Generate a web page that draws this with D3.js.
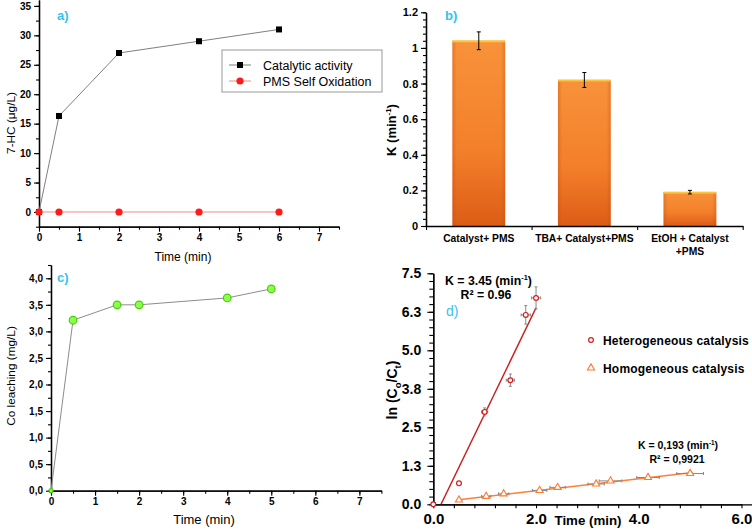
<!DOCTYPE html>
<html><head><meta charset="utf-8">
<script src="https://cdn.jsdelivr.net/npm/d3@7"></script>
<style>
html,body{margin:0;padding:0;background:#fff;}
svg{display:block;font-family:"Liberation Sans",Arial,sans-serif;}
</style></head>
<body><svg id="c" width="752" height="529"></svg>
<script>
// ---------- Panel a data ----------
const aTime = [0, 0.5, 2, 4, 6];
const aCatalytic = [0, 16.3, 27, 29, 31];
const aPMS = [0, 0, 0, 0, 0];
const aXTicks = [0, 1, 2, 3, 4, 5, 6, 7];
const aYTicks = [0, 5, 10, 15, 20, 25, 30, 35];
const aSeriesNames = ["Catalytic activity", "PMS Self Oxidation"];

// ---------- Panel b data ----------
const bCategories = ["Catalyst+ PMS", "TBA+ Catalyst+PMS", "EtOH + Catalyst|+PMS"];
const bValues = [1.04, 0.82, 0.19];
const bErrors = [0.05, 0.042, 0.01];
const bYTicks = [0, 0.2, 0.4, 0.6, 0.8, 1.0, 1.2];
const bYTickLabels = ["0", "0.2", "0.4", "0.6", "0.8", "1", "1.2"];

// ---------- Panel c data ----------
const cTime = [0, 0.5, 1.5, 2, 4, 5];
const cCo = [0, 3.21, 3.5, 3.5, 3.63, 3.8];
const cXTicks = [0, 1, 2, 3, 4, 5, 6, 7];
const cYTicks = [0, 0.5, 1.0, 1.5, 2.0, 2.5, 3.0, 3.5, 4.0];
const cYTickLabels = ["0,0", "0,5", "1,0", "1,5", "2,0", "2,5", "3,0", "3,5", "4,0"];

// ---------- Panel d data ----------
const hetTime = [0, 0.5, 1.0, 1.5, 1.8, 2.0];
const hetLn = [0, 0.68, 3.0, 4.03, 6.15, 6.7];
const hetXErr = [0, 0, 0.06, 0.08, 0.09, 0.09];
const hetYErr = [0, 0, 0.13, 0.2, 0.3, 0.36];
const homTime = [0.5, 1.03, 1.37, 2.07, 2.42, 3.17, 3.45, 4.18, 5.0];
const homLn = [0.14, 0.26, 0.34, 0.45, 0.55, 0.66, 0.76, 0.87, 1.0];
const homXErr = [0, 0.09, 0.1, 0.14, 0.15, 0.16, 0.22, 0.22, 0.26];
const homYErr = [0, 0.03, 0.03, 0.03, 0.04, 0.03, 0.03, 0.03, 0.04];
const hetFit = {k: 3.45, b: -0.52, from: 0.151, to: 2.0};
const homFit = {k: 0.193, b: 0.055, from: 0.5, to: 5.05};
const dXTicks = [0, 2, 4, 6];
const dXTickLabels = ["0.0", "2.0", "4.0", "6.0"];
const dYTicks = [0, 1.25, 2.5, 3.75, 5, 6.25, 7.5];
const dYTickLabels = ["0.0", "1.3", "2.5", "3.8", "5.0", "6.3", "7.5"];
const dSeriesNames = ["Heterogeneous catalysis", "Homogeneous catalysis"];

const svg = d3.select("#c");
const FONT = '"Liberation Sans", Arial, sans-serif';
const LBL = "#33c3f0";

function styleAxis(g, size, bold) {
  g.select(".domain").attr("stroke", "#000").attr("stroke-width", 1.3);
  g.selectAll(".tick line").attr("stroke", "#000").attr("stroke-width", 1.1);
  g.selectAll(".tick text").attr("font-family", FONT).attr("font-size", size)
    .attr("font-weight", bold ? "bold" : "normal").attr("fill", "#000");
}
function minorTicks(from, to, step) {
  const r = []; for (let v = from; v <= to + 1e-9; v += step) r.push(+v.toFixed(6)); return r;
}

// ======================= Panel a =======================
{
  const x = d3.scaleLinear().domain([0, 7.5]).range([39, 339]);
  const y = d3.scaleLinear().domain([-2.5, 36]).range([226.7, 0]);
  const g = svg.append("g");
  g.append("g").attr("transform", "translate(0,226.7)")
    .call(d3.axisBottom(x).tickValues(minorTicks(0, 7.5, 0.5)).tickFormat("").tickSize(3).tickSizeOuter(0))
    .call(s => styleAxis(s, 10, true));
  g.append("g").attr("transform", "translate(0,226.7)")
    .call(d3.axisBottom(x).tickValues(aXTicks).tickFormat(d3.format("d")).tickSize(5).tickSizeOuter(0).tickPadding(2))
    .call(s => styleAxis(s, 10, true));
  g.append("g").attr("transform", "translate(39,0)")
    .call(d3.axisLeft(y).tickValues(minorTicks(-2.5, 35, 2.5)).tickFormat("").tickSize(3).tickSizeOuter(0))
    .call(s => styleAxis(s, 10, true));
  g.append("g").attr("transform", "translate(39,0)")
    .call(d3.axisLeft(y).tickValues(aYTicks).tickFormat(d3.format("d")).tickSize(5).tickSizeOuter(0).tickPadding(3))
    .call(s => styleAxis(s, 10, true));

  const line = d3.line().x((d, i) => x(aTime[i])).y(d => y(d));
  g.append("path").datum(aPMS).attr("d", line).attr("fill", "none").attr("stroke", "#f08a8a").attr("stroke-width", 1);
  g.append("path").datum(aCatalytic).attr("d", line).attr("fill", "none").attr("stroke", "#808080").attr("stroke-width", 1);
  g.selectAll(".sq").data(aCatalytic).join("rect")
    .attr("x", (d, i) => x(aTime[i]) - 3).attr("y", d => y(d) - 3).attr("width", 6).attr("height", 6).attr("fill", "#000");
  g.selectAll(".rc").data(aPMS).join("circle")
    .attr("cx", (d, i) => x(aTime[i])).attr("cy", d => y(d)).attr("r", 3.6).attr("fill", "#ff1a1a");

  // legend
  const lg = g.append("g");
  lg.append("rect").attr("x", 222).attr("y", 50).attr("width", 160).attr("height", 42)
    .attr("fill", "#fff").attr("stroke", "#999").attr("stroke-width", 1);
  const ly = [65, 81];
  lg.append("line").attr("x1", 229).attr("x2", 251).attr("y1", ly[0]).attr("y2", ly[0]).attr("stroke", "#808080");
  lg.append("rect").attr("x", 237).attr("y", ly[0] - 3).attr("width", 6).attr("height", 6).attr("fill", "#000");
  lg.append("line").attr("x1", 229).attr("x2", 251).attr("y1", ly[1]).attr("y2", ly[1]).attr("stroke", "#f08a8a");
  lg.append("circle").attr("cx", 240).attr("cy", ly[1]).attr("r", 3.6).attr("fill", "#ff1a1a");
  aSeriesNames.forEach((n, i) => lg.append("text").attr("x", 263).attr("y", ly[i] + 4.5)
    .attr("font-size", 12.5).attr("font-family", FONT).text(n));

  g.append("text").attr("x", 183).attr("y", 261).attr("text-anchor", "middle").attr("font-size", 12).text("Time (min)");
  g.append("text").attr("transform", "translate(15,123) rotate(-90)").attr("text-anchor", "middle")
    .attr("font-size", 11.8).text("7-HC (\u03BCg/L)");
  g.append("text").attr("x", 57).attr("y", 20).attr("font-size", 13).attr("font-weight", "bold").attr("fill", LBL).text("a)");
}

// ======================= Panel b =======================
{
  const x = d3.scaleBand().domain(bCategories).range([426, 742.7]).paddingInner(0.5).paddingOuter(0.25);
  const y = d3.scaleLinear().domain([0, 1.2]).range([226, 12.3]);
  const g = svg.append("g");
  const defs = svg.append("defs");
  const gr = defs.append("linearGradient").attr("id", "barGrad").attr("x1", 0).attr("x2", 0).attr("y1", 0).attr("y2", 1);
  gr.append("stop").attr("offset", "0%").attr("stop-color", "#f8923a");
  gr.append("stop").attr("offset", "60%").attr("stop-color", "#f37f2a");
  gr.append("stop").attr("offset", "100%").attr("stop-color", "#dc5c16");
  const gh = defs.append("linearGradient").attr("id", "barGradH").attr("x1", 0).attr("x2", 1).attr("y1", 0).attr("y2", 0);
  gh.append("stop").attr("offset", "0%").attr("stop-color", "#c04a10").attr("stop-opacity", 0.35);
  gh.append("stop").attr("offset", "8%").attr("stop-color", "#c04a10").attr("stop-opacity", 0);
  gh.append("stop").attr("offset", "92%").attr("stop-color", "#c04a10").attr("stop-opacity", 0);
  gh.append("stop").attr("offset", "100%").attr("stop-color", "#c04a10").attr("stop-opacity", 0.35);

  g.selectAll(".bar").data(bValues).join("rect")
    .attr("x", (d, i) => x(bCategories[i])).attr("y", d => y(d))
    .attr("width", x.bandwidth()).attr("height", d => y(0) - y(d)).attr("fill", "url(#barGrad)");
  g.selectAll(".barh").data(bValues).join("rect")
    .attr("x", (d, i) => x(bCategories[i])).attr("y", d => y(d))
    .attr("width", x.bandwidth()).attr("height", d => y(0) - y(d)).attr("fill", "url(#barGradH)");
  g.selectAll(".bartop").data(bValues).join("rect")
    .attr("x", (d, i) => x(bCategories[i])).attr("y", d => y(d) - 0.5)
    .attr("width", x.bandwidth()).attr("height", 2).attr("fill", "#fbc43c");

  // error bars
  bValues.forEach((v, i) => {
    const cx = x(bCategories[i]) + x.bandwidth() / 2;
    g.append("line").attr("x1", cx).attr("x2", cx).attr("y1", y(v + bErrors[i])).attr("y2", y(v - bErrors[i])).attr("stroke", "#000").attr("stroke-width", 1);
    [v + bErrors[i], v - bErrors[i]].forEach(e => g.append("line").attr("x1", cx - 2).attr("x2", cx + 2).attr("y1", y(e)).attr("y2", y(e)).attr("stroke", "#000"));
  });

  // axes
  g.append("g").attr("transform", "translate(426,0)")
    .call(d3.axisLeft(y).tickValues(minorTicks(0, 1.2, 0.04)).tickFormat("").tickSize(3).tickSizeOuter(0))
    .call(s => styleAxis(s, 11, true));
  g.append("g").attr("transform", "translate(426,0)")
    .call(d3.axisLeft(y).tickValues(bYTicks).tickFormat((d, i) => bYTickLabels[i]).tickSize(5).tickSizeOuter(0).tickPadding(3))
    .call(s => styleAxis(s, 11, true));
  const xl = d3.scaleLinear().domain([0, 3]).range([426, 742.7]);
  g.append("g").attr("transform", "translate(0,226)")
    .call(d3.axisBottom(xl).tickValues([0, 1, 2, 3]).tickFormat("").tickSize(4).tickSizeOuter(0))
    .call(s => styleAxis(s, 11, true));
  bCategories.forEach((c, i) => {
    const cx = x(c) + x.bandwidth() / 2;
    c.split("|").forEach((part, j) => g.append("text").attr("x", cx).attr("y", 242 + j * 13)
      .attr("text-anchor", "middle").attr("font-size", 10.3).attr("font-weight", "bold").text(part));
  });
  const t = g.append("text").attr("transform", "translate(396,130) rotate(-90)").attr("text-anchor", "middle")
    .attr("font-size", 13).attr("font-weight", "bold");
  t.append("tspan").text("K (min");
  t.append("tspan").attr("font-size", 8).attr("dy", -5).text("-1");
  t.append("tspan").attr("dy", 5).text(")");
  g.append("text").attr("x", 445).attr("y", 20).attr("font-size", 13).attr("font-weight", "bold").attr("fill", LBL).text("b)");
}

// ======================= Panel c =======================
{
  const x = d3.scaleLinear().domain([0, 7.5]).range([51, 381.4]);
  const y = d3.scaleLinear().domain([0, 4.25]).range([490.7, 265]);
  const g = svg.append("g");
  g.append("g").attr("transform", "translate(0,490.7)")
    .call(d3.axisBottom(x).tickValues(minorTicks(0, 7.5, 0.5)).tickFormat("").tickSize(3).tickSizeOuter(0))
    .call(s => styleAxis(s, 10, true));
  g.append("g").attr("transform", "translate(0,490.7)")
    .call(d3.axisBottom(x).tickValues(cXTicks).tickFormat(d3.format("d")).tickSize(5).tickSizeOuter(0).tickPadding(2))
    .call(s => styleAxis(s, 10, true));
  g.append("g").attr("transform", "translate(51,0)")
    .call(d3.axisLeft(y).tickValues(minorTicks(0, 4.25, 0.25)).tickFormat("").tickSize(3).tickSizeOuter(0))
    .call(s => styleAxis(s, 10, true));
  g.append("g").attr("transform", "translate(51,0)")
    .call(d3.axisLeft(y).tickValues(cYTicks).tickFormat((d, i) => cYTickLabels[i]).tickSize(5).tickSizeOuter(0).tickPadding(3))
    .call(s => styleAxis(s, 10, true));
  const line = d3.line().x((d, i) => x(cTime[i])).y(d => y(d));
  g.append("path").datum(cCo).attr("d", line).attr("fill", "none").attr("stroke", "#8c8c8c").attr("stroke-width", 1);
  g.selectAll(".gc").data(cCo).join("circle")
    .attr("cx", (d, i) => x(cTime[i])).attr("cy", d => y(d)).attr("r", (d, i) => i === 0 ? 2 : 3.8)
    .attr("fill", "#8cff4a").attr("stroke", "#4ccc10").attr("stroke-width", 1.2);
  g.append("text").attr("x", 204).attr("y", 524).attr("text-anchor", "middle").attr("font-size", 13).text("Time (min)");
  g.append("text").attr("transform", "translate(15,376) rotate(-90)").attr("text-anchor", "middle")
    .attr("font-size", 11.8).text("Co leaching (mg/L)");
  g.append("text").attr("x", 57).attr("y", 282).attr("font-size", 13).attr("font-weight", "bold").attr("fill", LBL).text("c)");
}

// ======================= Panel d =======================
{
  const x = d3.scaleLinear().domain([0, 6]).range([433.3, 741.5]);
  const y = d3.scaleLinear().domain([0, 7.5]).range([504.3, 273.3]);
  const g = svg.append("g");
  const xAxisScale = d3.scaleLinear().domain([0, 6.2]).range([433.3, 433.3 + 6.2 * (741.5 - 433.3) / 6]);
  g.append("g").attr("transform", "translate(0,504.3)")
    .call(d3.axisBottom(xAxisScale).tickValues(minorTicks(0, 6.0, 0.4)).tickFormat("").tickSize(4).tickSizeOuter(0))
    .call(s => styleAxis(s, 15, true));
  g.append("g").attr("transform", "translate(0,504.3)")
    .call(d3.axisBottom(x).tickValues(dXTicks).tickFormat((d, i) => dXTickLabels[i]).tickSize(0).tickSizeOuter(0).tickPadding(9))
    .call(s => styleAxis(s, 15, true));
  g.append("g").attr("transform", "translate(433.3,0)")
    .call(d3.axisLeft(y).tickValues(minorTicks(0, 7.5, 0.25)).tickFormat("").tickSize(4).tickSizeOuter(0))
    .call(s => styleAxis(s, 14, true));
  g.append("g").attr("transform", "translate(433.3,0)")
    .call(d3.axisLeft(y).tickValues(dYTicks).tickFormat((d, i) => dYTickLabels[i]).tickSize(6).tickSizeOuter(0).tickPadding(6))
    .call(s => styleAxis(s, 14, true));

  // fit lines
  [[hetFit, "#c8201e"], [homFit, "#ff7f3a"]].forEach(([f, col]) => {
    const pts = [f.from, f.to];
    g.append("path").datum(pts).attr("d", d3.line().x(d => x(d)).y(d => y(f.k * d + f.b)))
      .attr("stroke", col).attr("stroke-width", 1.5).attr("fill", "none");
  });

  // error bars
  function errBars(tx, ty, ex, ey) {
    tx.forEach((t, i) => {
      const cx = x(t), cy = y(ty[i]);
      if (ex[i] > 0) {
        g.append("line").attr("x1", x(t - ex[i])).attr("x2", x(t + ex[i])).attr("y1", cy).attr("y2", cy).attr("stroke", "#888").attr("stroke-width", 1);
        [t - ex[i], t + ex[i]].forEach(v => g.append("line").attr("x1", x(v)).attr("x2", x(v)).attr("y1", cy - 1.5).attr("y2", cy + 1.5).attr("stroke", "#888"));
      }
      if (ey[i] > 0) {
        g.append("line").attr("x1", cx).attr("x2", cx).attr("y1", y(ty[i] - ey[i])).attr("y2", y(ty[i] + ey[i])).attr("stroke", "#888").attr("stroke-width", 1);
        [ty[i] - ey[i], ty[i] + ey[i]].forEach(v => g.append("line").attr("x1", cx - 1.5).attr("x2", cx + 1.5).attr("y1", y(v)).attr("y2", y(v)).attr("stroke", "#888"));
      }
    });
  }
  errBars(hetTime, hetLn, hetXErr, hetYErr);
  errBars(homTime, homLn, homXErr, homYErr);

  const tri = d3.symbol().type(d3.symbolTriangle).size(22);
  g.selectAll(".het").data(hetLn).join("circle")
    .attr("cx", (d, i) => x(hetTime[i])).attr("cy", d => y(d)).attr("r", 2.4)
    .attr("fill", "#fff").attr("stroke", "#d0201e").attr("stroke-width", 1.2);
  g.selectAll(".hom").data(homLn).join("path")
    .attr("transform", (d, i) => `translate(${x(homTime[i])},${y(d)})`).attr("d", tri)
    .attr("fill", "#fff").attr("stroke", "#ff7a30").attr("stroke-width", 1.1);

  // legend
  const legY = [340, 368];
  g.append("circle").attr("cx", 591).attr("cy", legY[0]).attr("r", 2.4).attr("fill", "#fff").attr("stroke", "#d0201e").attr("stroke-width", 1.2);
  g.append("path").attr("transform", `translate(591,${legY[1]})`).attr("d", tri).attr("fill", "#fff").attr("stroke", "#ff7a30").attr("stroke-width", 1.1);
  dSeriesNames.forEach((n, i) => g.append("text").attr("x", 603).attr("y", legY[i] + 4.5)
    .attr("font-size", 12).attr("font-weight", "bold").attr("letter-spacing", 0.2).text(n));

  // annotations
  function kText(xp, yp, k, fs, anchor) {
    const t = g.append("text").attr("x", xp).attr("y", yp).attr("font-size", fs).attr("font-weight", "bold").attr("text-anchor", anchor);
    t.append("tspan").text("K = " + k + " (min");
    t.append("tspan").attr("font-size", fs * 0.6).attr("dy", -fs * 0.38).text("-1");
    t.append("tspan").attr("dy", fs * 0.38).text(")");
  }
  kText(445, 285, "3.45", 12.3, "start");
  g.append("text").attr("x", 486).attr("y", 299).attr("text-anchor", "middle").attr("font-size", 12.3).attr("font-weight", "bold").text("R\u00B2 = 0.96");
  kText(678, 449, "0,193", 10.5, "middle");
  g.append("text").attr("x", 677).attr("y", 463).attr("text-anchor", "middle").attr("font-size", 10.5).attr("font-weight", "bold").text("R\u00B2 = 0,9921");

  g.append("text").attr("x", 446).attr("y", 316).attr("font-size", 14).attr("fill", LBL).text("d)");
  g.append("text").attr("x", 588).attr("y", 525).attr("text-anchor", "middle").attr("font-size", 13.3).attr("font-weight", "bold").text("Time (min)");

  const yl = g.append("text").attr("transform", "translate(397,390) rotate(-90)").attr("text-anchor", "middle")
    .attr("font-size", 14).attr("font-weight", "bold");
  yl.append("tspan").text("ln (C");
  yl.append("tspan").attr("font-size", 9.5).attr("dy", 4).text("o");
  yl.append("tspan").attr("dy", -4).text("/C");
  yl.append("tspan").attr("font-size", 9.5).attr("dy", 4).text("t");
  yl.append("tspan").attr("dy", -4).text(")");
}
</script></body></html>
